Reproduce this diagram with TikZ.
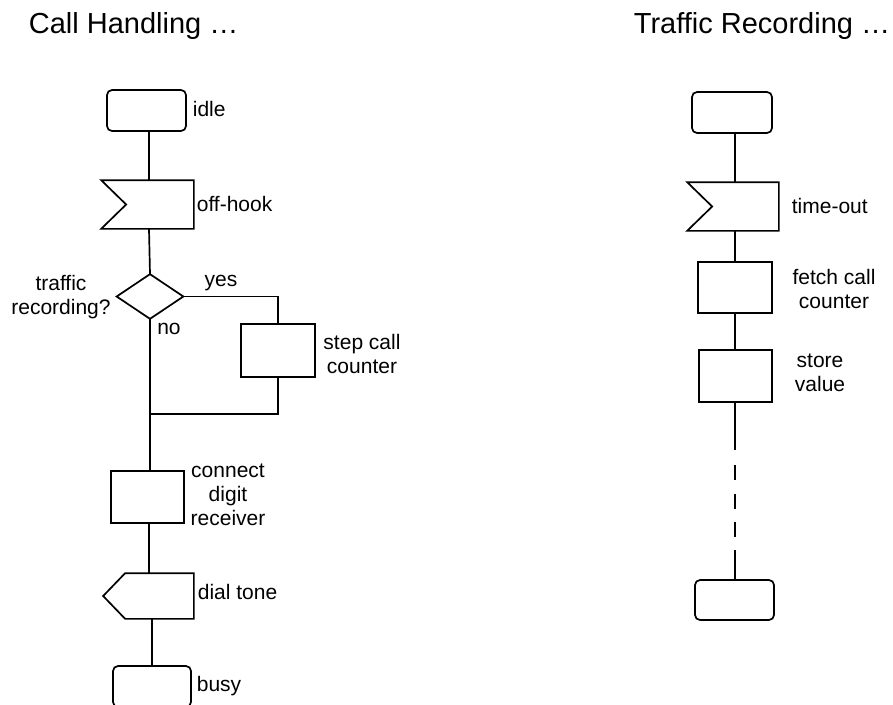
\documentclass[tikz,border=0pt]{standalone}
\usepackage{fontspec}
\setmainfont{Liberation Sans}
\begin{document}
\begin{tikzpicture}[x=1pt,y=-1pt,
  line width=1.7pt, line join=miter,
  box/.style={draw, rectangle, inner sep=0pt},
  statebox/.style={draw, rectangle, rounded corners=5pt, inner sep=0pt},
  ghost/.style={rectangle, inner sep=0pt},
  lbl/.style={inner sep=0pt, font=\fontsize{21}{24}\selectfont, align=center},
  ttl/.style={inner sep=0pt, font=\fontsize{29}{34}\selectfont}]
\useasboundingbox (0,0) rectangle (893,704);
\clip (0,0) rectangle (893,704);

% titles
\node[ttl, anchor=base west] (t1) at (28,33) {Call Handling …};
\node[ttl, anchor=base west] (t2) at (633,33) {Traffic Recording …};

% ---------- left column ----------
\node[statebox, minimum width=79pt, minimum height=41pt] (idle) at (146.5,110.5) {};
\node[ghost, minimum width=91pt, minimum height=47pt] (offhook) at (147.5,204.5) {};
\draw (offhook.north west) -- (offhook.north east) -- (offhook.south east) -- (offhook.south west) -- ([xshift=25pt]offhook.west) -- cycle;
\node[ghost, minimum width=65pt, minimum height=43pt] (dec) at (150,296.5) {};
\draw (dec.north) -- (dec.east) -- (dec.south) -- (dec.west) -- cycle;
\node[box, minimum width=74pt, minimum height=53pt] (stepc) at (278,350.5) {};
\coordinate (merge) at (149,414);
\node[box, minimum width=73pt, minimum height=52pt] (conn) at (147.5,497) {};
\node[ghost, minimum width=89pt, minimum height=44pt] (dial) at (148.5,596) {};
\draw ([xshift=22pt]dial.north west) -- (dial.north east) -- (dial.south east) -- ([xshift=22pt]dial.south west) -- (dial.west) -- cycle;
\node[statebox, minimum width=78pt, minimum height=41pt] (busy) at (152,686.5) {};

\coordinate (L) at (149,0);
\draw (idle.south -| L) -- (offhook.north -| L);
\draw (offhook.south -| L) -- (dec.north);
\draw (dec.east) -| (stepc.north);
\draw (stepc.south) |- (merge);
\draw (dec.south) -- (conn.north -| dec.south);
\draw (conn.south -| L) -- (dial.north -| L);
\draw (dial.south -| busy.north) -- (busy.north);

% left labels
\node[lbl, anchor=west] (lidle) at (192,109) {idle};
\node[lbl, anchor=west] (loff) at (196,204) {off-hook};
\node[lbl] (ldec) at (61,297) {traffic\\recording?};
\node[lbl] (lyes) at (221,283) {yes};
\node[lbl] (lno) at (169,329) {no};
\node[lbl] (lstep) at (362,354) {step call\\counter};
\node[lbl] (lconn) at (228,495) {connect\\digit\\receiver};
\node[lbl, anchor=west] (ldial) at (197,592) {dial tone};
\node[lbl, anchor=west] (lbusy) at (196,686) {busy};

% ---------- right column ----------
\node[statebox, minimum width=80pt, minimum height=41pt] (rtop) at (732,112.5) {};
\node[ghost, minimum width=90pt, minimum height=47pt] (tout) at (733,206.5) {};
\draw (tout.north west) -- (tout.north east) -- (tout.south east) -- (tout.south west) -- ([xshift=25pt]tout.west) -- cycle;
\node[box, minimum width=74pt, minimum height=51pt] (fetch) at (735,287.5) {};
\node[box, minimum width=73pt, minimum height=52pt] (store) at (735.5,376) {};
\node[statebox, minimum width=79pt, minimum height=40pt] (rbot) at (734.5,600) {};

\coordinate (R) at (735,0);
\coordinate (d1) at (735,450);
\coordinate (d2) at (735,465);
\coordinate (d3) at (735,537);
\coordinate (d4) at (735,550);
\draw (rtop.south -| R) -- (tout.north -| R);
\draw (tout.south -| R) -- (fetch.north -| R);
\draw (fetch.south -| R) -- (store.north -| R);
\draw (store.south -| R) -- (d1);
\draw[dash pattern=on 15pt off 13.5pt] (d2) -- (d3);
\draw (d4) -- (rbot.north -| R);

% right labels
\node[lbl, anchor=west] (ltout) at (791,206) {time-out};
\node[lbl] (lfetch) at (834,289) {fetch call\\counter};
\node[lbl] (lstore) at (820,373) {store\\value};
\end{tikzpicture}
\end{document}
